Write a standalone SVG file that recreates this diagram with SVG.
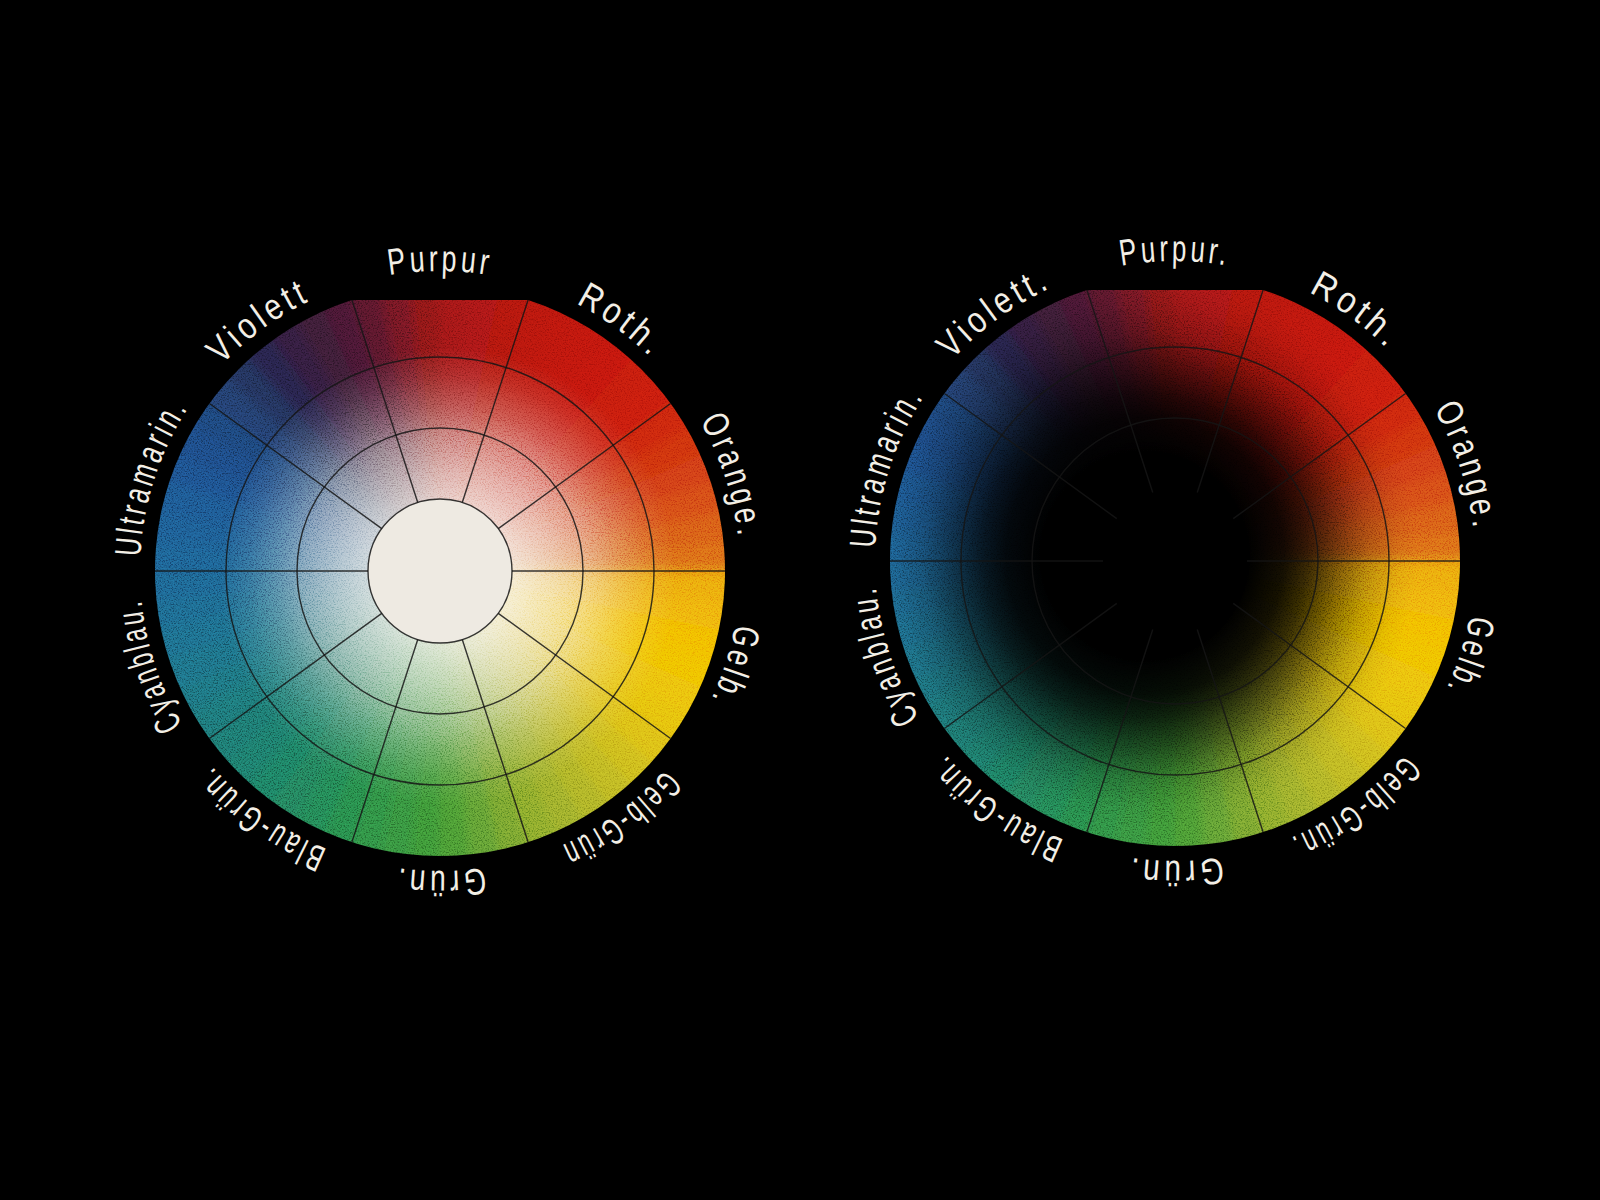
<svg xmlns="http://www.w3.org/2000/svg" xmlns:xlink="http://www.w3.org/1999/xlink" width="1600" height="1200" viewBox="0 0 1600 1200">
<style>
.grid{fill:none;stroke:#151515;stroke-width:1.4;stroke-opacity:.85}
.lbl{font-family:'Liberation Sans','DejaVu Sans',sans-serif;font-size:37px;fill:#f3efe6;letter-spacing:5px}
</style>
<defs>
<path id="w" d="M0,0 L300,0 A300,300 0 0 1 298.01,34.48 Z"/>
<g id="hues">
<use href="#w" transform="rotate(6)" fill="#eeb209"/>
<use href="#w" transform="rotate(12)" fill="#f1bb03"/>
<use href="#w" transform="rotate(18)" fill="#efc003"/>
<use href="#w" transform="rotate(24)" fill="#eac00a"/>
<use href="#w" transform="rotate(30)" fill="#e5c011"/>
<use href="#w" transform="rotate(36)" fill="#dbbe17"/>
<use href="#w" transform="rotate(42)" fill="#ccba1c"/>
<use href="#w" transform="rotate(48)" fill="#bdb621"/>
<use href="#w" transform="rotate(54)" fill="#adb126"/>
<use href="#w" transform="rotate(60)" fill="#9bac29"/>
<use href="#w" transform="rotate(66)" fill="#89a72c"/>
<use href="#w" transform="rotate(72)" fill="#75a12f"/>
<use href="#w" transform="rotate(78)" fill="#5f9c30"/>
<use href="#w" transform="rotate(84)" fill="#499731"/>
<use href="#w" transform="rotate(90)" fill="#3b9235"/>
<use href="#w" transform="rotate(96)" fill="#348f3c"/>
<use href="#w" transform="rotate(102)" fill="#2d8c43"/>
<use href="#w" transform="rotate(108)" fill="#28884a"/>
<use href="#w" transform="rotate(114)" fill="#248352"/>
<use href="#w" transform="rotate(120)" fill="#207e5a"/>
<use href="#w" transform="rotate(126)" fill="#1d7b61"/>
<use href="#w" transform="rotate(132)" fill="#1c7867"/>
<use href="#w" transform="rotate(138)" fill="#1b756d"/>
<use href="#w" transform="rotate(144)" fill="#1a7374"/>
<use href="#w" transform="rotate(150)" fill="#1a707b"/>
<use href="#w" transform="rotate(156)" fill="#1a6d82"/>
<use href="#w" transform="rotate(162)" fill="#1a6a88"/>
<use href="#w" transform="rotate(168)" fill="#1a668b"/>
<use href="#w" transform="rotate(174)" fill="#1a628e"/>
<use href="#w" transform="rotate(180)" fill="#1a5e90"/>
<use href="#w" transform="rotate(186)" fill="#1a5a8f"/>
<use href="#w" transform="rotate(192)" fill="#1a568e"/>
<use href="#w" transform="rotate(198)" fill="#1b508a"/>
<use href="#w" transform="rotate(204)" fill="#1c4a82"/>
<use href="#w" transform="rotate(210)" fill="#1d4479"/>
<use href="#w" transform="rotate(216)" fill="#203c6c"/>
<use href="#w" transform="rotate(222)" fill="#24305a"/>
<use href="#w" transform="rotate(228)" fill="#282448"/>
<use href="#w" transform="rotate(234)" fill="#311d3c"/>
<use href="#w" transform="rotate(240)" fill="#3b1a36"/>
<use href="#w" transform="rotate(246)" fill="#461730"/>
<use href="#w" transform="rotate(252)" fill="#58152a"/>
<use href="#w" transform="rotate(258)" fill="#721420"/>
<use href="#w" transform="rotate(264)" fill="#8c1418"/>
<use href="#w" transform="rotate(270)" fill="#a01413"/>
<use href="#w" transform="rotate(276)" fill="#a81312"/>
<use href="#w" transform="rotate(282)" fill="#b01211"/>
<use href="#w" transform="rotate(288)" fill="#b61210"/>
<use href="#w" transform="rotate(294)" fill="#ba1210"/>
<use href="#w" transform="rotate(300)" fill="#be1210"/>
<use href="#w" transform="rotate(306)" fill="#c11510"/>
<use href="#w" transform="rotate(312)" fill="#c41a10"/>
<use href="#w" transform="rotate(318)" fill="#c71f10"/>
<use href="#w" transform="rotate(324)" fill="#ca2810"/>
<use href="#w" transform="rotate(330)" fill="#cd3311"/>
<use href="#w" transform="rotate(336)" fill="#d03e12"/>
<use href="#w" transform="rotate(342)" fill="#d44c12"/>
<use href="#w" transform="rotate(348)" fill="#d75b12"/>
<use href="#w" transform="rotate(354)" fill="#da6a12"/>
<use href="#w" transform="rotate(0)" fill="#eba90f"/>
</g>
<clipPath id="cut" clipPathUnits="userSpaceOnUse">
<path d="M-88.07,-271.05 L88.07,-271.05 A285,285 0 1 1 -88.07,-271.05 Z"/>
</clipPath>
<filter id="soft" x="-10%" y="-10%" width="120%" height="120%">
<feGaussianBlur stdDeviation="6"/>
</filter>
<radialGradient id="whiteFade" gradientUnits="userSpaceOnUse" cx="8" cy="5" r="285">
<stop offset="0" stop-color="#f6f3ec" stop-opacity="1"/>
<stop offset="0.25" stop-color="#f6f3ec" stop-opacity="0.84"/>
<stop offset="0.38" stop-color="#f6f3ec" stop-opacity="0.66"/>
<stop offset="0.5" stop-color="#f6f3ec" stop-opacity="0.46"/>
<stop offset="0.6" stop-color="#f6f3ec" stop-opacity="0.26"/>
<stop offset="0.7" stop-color="#f6f3ec" stop-opacity="0.1"/>
<stop offset="0.8" stop-color="#f6f3ec" stop-opacity="0"/>
</radialGradient>
<radialGradient id="blackFade" gradientUnits="userSpaceOnUse" cx="-30" cy="-5" r="290">
<stop offset="0" stop-color="#000" stop-opacity="1"/>
<stop offset="0.36" stop-color="#000" stop-opacity="1"/>
<stop offset="0.48" stop-color="#000" stop-opacity="0.92"/>
<stop offset="0.56" stop-color="#000" stop-opacity="0.78"/>
<stop offset="0.66" stop-color="#000" stop-opacity="0.52"/>
<stop offset="0.77" stop-color="#000" stop-opacity="0.22"/>
<stop offset="0.87" stop-color="#000" stop-opacity="0.05"/>
<stop offset="0.94" stop-color="#000" stop-opacity="0"/>
</radialGradient>
<filter id="grain" filterUnits="objectBoundingBox" x="0" y="0" width="1" height="1">
<feTurbulence type="fractalNoise" baseFrequency="0.75" numOctaves="2" seed="7"/>
<feColorMatrix type="matrix" values="3 0 0 0 -1  3 0 0 0 -1  3 0 0 0 -1  0 0 0 0 0.22"/>
</filter>
<g id="spokes" class="grid">
<line x1="72" y1="0" x2="285" y2="0"/>
<line x1="58.25" y1="42.32" x2="230.57" y2="167.52"/>
<line x1="22.25" y1="68.48" x2="88.07" y2="271.05"/>
<line x1="-22.25" y1="68.48" x2="-88.07" y2="271.05"/>
<line x1="-58.25" y1="42.32" x2="-230.57" y2="167.52"/>
<line x1="-72" y1="0" x2="-285" y2="0"/>
<line x1="-58.25" y1="-42.32" x2="-230.57" y2="-167.52"/>
<line x1="-22.25" y1="-68.48" x2="-88.07" y2="-271.05"/>
<line x1="22.25" y1="-68.48" x2="88.07" y2="-271.05"/>
<line x1="58.25" y1="-42.32" x2="230.57" y2="-167.52"/>
</g>
<path id="ring" d="M300,0 A300,300 0 1 1 -300,0 A300,300 0 1 1 300,0"/>
</defs>
<rect width="1600" height="1200" fill="#000"/>

<g id="wheel-left" transform="translate(440,571)">
<g clip-path="url(#cut)">
<use href="#hues" filter="url(#soft)"/>
<circle r="300" fill="url(#whiteFade)"/>
<rect x="-290" y="-290" width="580" height="580" filter="url(#grain)" style="mix-blend-mode:overlay"/>
</g>
<circle r="72" fill="#eeeae2"/>
<use href="#spokes"/>
<circle class="grid" r="72"/>
<circle class="grid" r="143"/>
<circle class="grid" r="214"/>
</g>

<g id="wheel-right" transform="translate(1175,561)">
<g clip-path="url(#cut)">
<use href="#hues" filter="url(#soft)"/>
<circle r="300" fill="url(#blackFade)"/>
<rect x="-290" y="-290" width="580" height="580" filter="url(#grain)" style="mix-blend-mode:overlay"/>
</g>
<use href="#spokes"/>
<circle class="grid" r="143"/>
<circle class="grid" r="214"/>
</g>

<g id="labels-left" transform="translate(440,571)">
<text class="lbl"><textPath href="#ring" startOffset="75%" text-anchor="middle" textLength="102" lengthAdjust="spacingAndGlyphs">Purpur</textPath></text>
<text class="lbl"><textPath href="#ring" startOffset="85%" text-anchor="middle" textLength="95" lengthAdjust="spacingAndGlyphs">Roth.</textPath></text>
<text class="lbl"><textPath href="#ring" startOffset="95%" text-anchor="middle" textLength="126" lengthAdjust="spacingAndGlyphs">Orange.</textPath></text>
<text class="lbl"><textPath href="#ring" startOffset="5%" text-anchor="middle" textLength="82" lengthAdjust="spacingAndGlyphs">Gelb.</textPath></text>
<text class="lbl"><textPath href="#ring" startOffset="15%" text-anchor="middle" textLength="132" lengthAdjust="spacingAndGlyphs">Gelb-Grün</textPath></text>
<text class="lbl"><textPath href="#ring" startOffset="25%" text-anchor="middle" textLength="90" lengthAdjust="spacingAndGlyphs">Grün.</textPath></text>
<text class="lbl"><textPath href="#ring" startOffset="35%" text-anchor="middle" textLength="146" lengthAdjust="spacingAndGlyphs">Blau-Grün.</textPath></text>
<text class="lbl"><textPath href="#ring" startOffset="45%" text-anchor="middle" textLength="135" lengthAdjust="spacingAndGlyphs">Cyanblau.</textPath></text>
<text class="lbl"><textPath href="#ring" startOffset="55%" text-anchor="middle" textLength="160" lengthAdjust="spacingAndGlyphs">Ultramarin.</textPath></text>
<text class="lbl"><textPath href="#ring" startOffset="65%" text-anchor="middle" textLength="112" lengthAdjust="spacingAndGlyphs">Violett</textPath></text>
</g>

<g id="labels-right" transform="translate(1175,561)">
<text class="lbl"><textPath href="#ring" startOffset="75%" text-anchor="middle" textLength="108" lengthAdjust="spacingAndGlyphs">Purpur.</textPath></text>
<text class="lbl"><textPath href="#ring" startOffset="85%" text-anchor="middle" textLength="100" lengthAdjust="spacingAndGlyphs">Roth.</textPath></text>
<text class="lbl"><textPath href="#ring" startOffset="95%" text-anchor="middle" textLength="130" lengthAdjust="spacingAndGlyphs">Orange.</textPath></text>
<text class="lbl"><textPath href="#ring" startOffset="5%" text-anchor="middle" textLength="80" lengthAdjust="spacingAndGlyphs">Gelb.</textPath></text>
<text class="lbl"><textPath href="#ring" startOffset="15%" text-anchor="middle" textLength="145" lengthAdjust="spacingAndGlyphs">Gelb-Grün.</textPath></text>
<text class="lbl"><textPath href="#ring" startOffset="25%" text-anchor="middle" textLength="95" lengthAdjust="spacingAndGlyphs">Grün.</textPath></text>
<text class="lbl"><textPath href="#ring" startOffset="35%" text-anchor="middle" textLength="150" lengthAdjust="spacingAndGlyphs">Blau-Grün.</textPath></text>
<text class="lbl"><textPath href="#ring" startOffset="45%" text-anchor="middle" textLength="142" lengthAdjust="spacingAndGlyphs">Cyanblau.</textPath></text>
<text class="lbl"><textPath href="#ring" startOffset="55%" text-anchor="middle" textLength="163" lengthAdjust="spacingAndGlyphs">Ultramarin.</textPath></text>
<text class="lbl"><textPath href="#ring" startOffset="65%" text-anchor="middle" textLength="125" lengthAdjust="spacingAndGlyphs">Violett.</textPath></text>
</g>
</svg>
